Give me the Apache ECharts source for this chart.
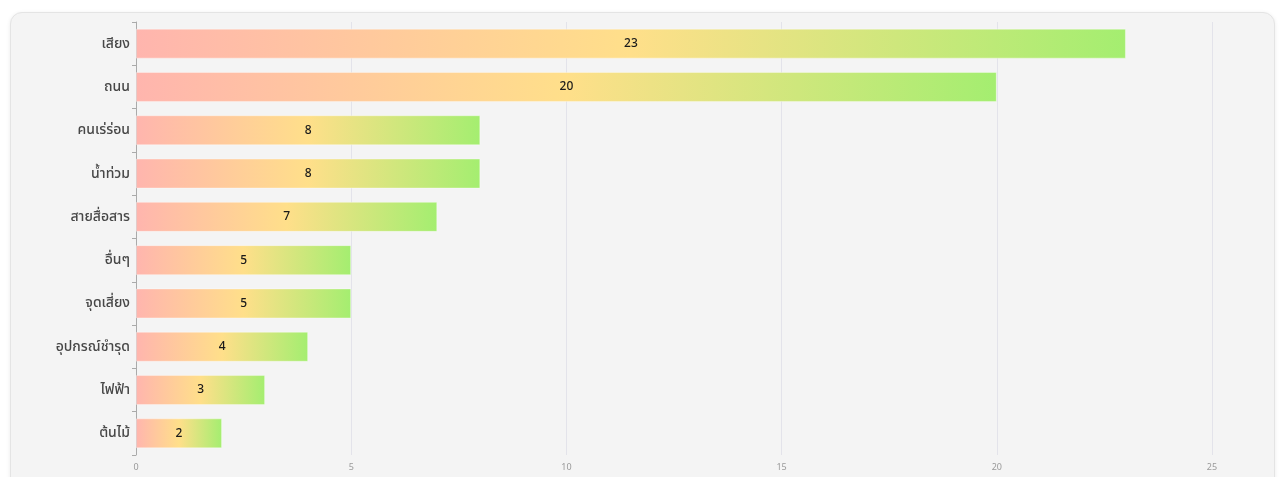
<!DOCTYPE html>
<html>
<head>
<meta charset="utf-8">
<script src="https://cdn.jsdelivr.net/npm/echarts@6/dist/echarts.min.js"></script>
<style>
  html, body { margin: 0; padding: 0; background: #ffffff; width: 1281px; height: 477px; overflow: hidden; }
  #panel { position: absolute; left: 10px; top: 12px; width: 1265px; height: 480px; background: #f4f4f4; border: 1px solid #e4e4e4; border-radius: 12px; box-shadow: 0 1px 4px rgba(0,0,0,0.08); box-sizing: border-box; }
  #chart { position: absolute; left: 0; top: 0; width: 1281px; height: 477px; }
</style>
</head>
<body>
<div id="panel"></div>
<div id="chart"></div>
<script>
const categories = ['เสียง', 'ถนน', 'คนเร่ร่อน', 'น้ำท่วม', 'สายสื่อสาร', 'อื่นๆ', 'จุดเสี่ยง', 'อุปกรณ์ชำรุด', 'ไฟฟ้า', 'ต้นไม้'];
const counts = [23, 20, 8, 8, 7, 5, 5, 4, 3, 2];
const xTicks = { min: 0, max: 25, interval: 5 };

const chart = echarts.init(document.getElementById('chart'), null, { renderer: 'canvas' });
const font = "'Noto Sans', 'Noto Sans Thai', 'Open Sans', sans-serif";
chart.setOption({
  backgroundColor: 'transparent',
  animation: false,
  grid: { left: 136, right: 69, top: 22, bottom: 22, containLabel: false },
  xAxis: {
    type: 'value', min: xTicks.min, max: xTicks.max, interval: xTicks.interval,
    axisLine: { show: false },
    axisTick: { show: false },
    splitLine: { show: true, lineStyle: { color: '#e3e3ea', width: 1 } },
    axisLabel: { fontSize: 9, color: '#9a9a9a', margin: 8, fontFamily: font }
  },
  yAxis: {
    type: 'category', data: categories, inverse: true,
    axisLine: { show: true, lineStyle: { color: '#aaaaaa', width: 1 } },
    axisTick: { show: true, length: 4, lineStyle: { color: '#aaaaaa' } },
    axisLabel: { fontSize: 14, color: '#474747', fontWeight: 500, margin: 6, fontFamily: font }
  },
  series: [{
    type: 'bar',
    data: counts,
    barWidth: 30,
    itemStyle: {
      color: new echarts.graphic.LinearGradient(0, 0, 1, 0, [
        { offset: 0, color: '#ffb5ae' },
        { offset: 0.5, color: '#ffdf8a' },
        { offset: 1, color: '#a4ee70' }
      ]),
      borderColor: 'rgba(255,255,255,0.35)',
      borderWidth: 1
    },
    label: { show: true, position: 'inside', color: '#1a1a1a', fontSize: 12, fontWeight: 500, fontFamily: font }
  }]
});
</script>
</body>
</html>
